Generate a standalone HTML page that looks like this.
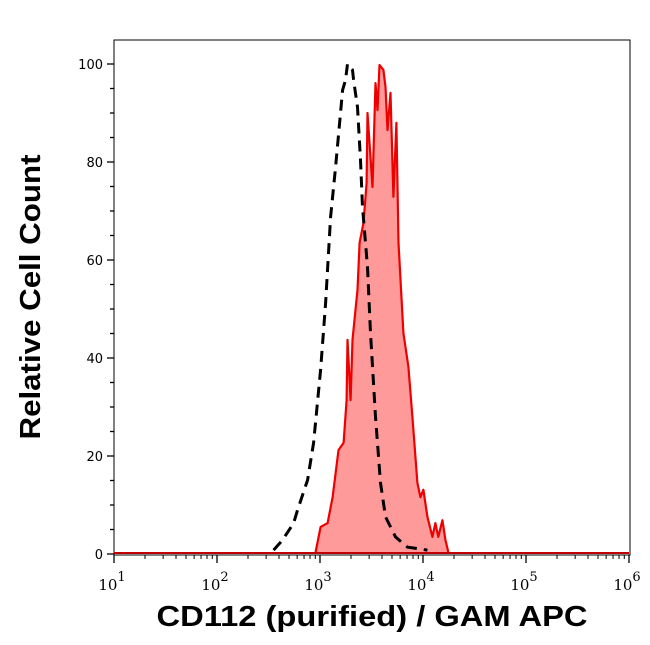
<!DOCTYPE html>
<html><head><meta charset="utf-8"><style>
body{margin:0;background:#fff;}
svg{display:block;}
</style></head><body>
<svg width="650" height="645" viewBox="0 0 650 645" xmlns="http://www.w3.org/2000/svg">
<g id="axes"></g>
<g id="marks"></g>
<text transform="translate(40,297) rotate(-90)" text-anchor="middle" font-family="Liberation Sans, sans-serif" font-weight="bold" font-size="29" textLength="285" lengthAdjust="spacingAndGlyphs">Relative Cell Count</text>
<text x="372" y="626" text-anchor="middle" font-family="Liberation Sans, sans-serif" font-weight="bold" font-size="29" textLength="431" lengthAdjust="spacingAndGlyphs">CD112 (purified) / GAM APC</text>
</svg>
<script>
const yTicks = [0, 20, 40, 60, 80, 100];
const xDecades = [1, 2, 3, 4, 5, 6];
const redLog = [2.957,3.006,3.074,3.122,3.180,3.229,3.258,3.267,3.297,3.316,3.364,3.384,3.422,3.452,3.461,3.510,3.539,3.558,3.578,3.616,3.636,3.655,3.684,3.713,3.742,3.762,3.810,3.858,3.897,3.946,3.975,4.004,4.043,4.091,4.120,4.149,4.188,4.217,4.246];
const redCount = [0.4,5.5,6.3,11.6,21.2,22.7,31.4,43.7,31.4,43.7,53.9,63.5,67.6,75.7,90.0,74.9,96.1,90.6,99.8,98.8,95.3,86.5,94.1,72.9,88.0,63.5,45.1,38.2,28.0,14.5,11.6,13.1,7.6,3.5,6.3,3.5,6.9,2.9,0.4];
const ctrlLog = [2.550,2.638,2.744,2.783,2.880,2.938,3.006,3.054,3.103,3.151,3.219,3.248,3.267,3.316,3.326,3.364,3.393,3.413,3.461,3.490,3.539,3.587,3.636,3.733,3.849,4.043];
const ctrlCount = [0.8,2.9,6.3,9.0,15.1,22.7,37.6,51.2,68.8,79.0,94.7,96.7,100,98.8,96.7,91.2,80.4,70.8,58.6,45.1,28.0,14.5,7.6,3.5,1.4,0.8];

const NS = 'http://www.w3.org/2000/svg';
const L = 114, R = 630, T = 40, B = 555;
const y0 = 554, yPer = 4.9;
const x1 = 114, dec = 103;
function sx(lg){ return x1 + (lg - 1) * dec; }
function sy(v){ return y0 - v * yPer; }
function mk(tag, attrs, parent){
  const e = document.createElementNS(NS, tag);
  for (const k in attrs) e.setAttribute(k, attrs[k]);
  parent.appendChild(e); return e;
}
const axes = document.getElementById('axes');
const marks = document.getElementById('marks');

const frame = mk('rect', {x:L, y:T, width:R-L, height:B-T, fill:'none', stroke:'#000', 'stroke-width':1}, axes);



for (let v = 0; v <= 100; v += 5) {
  const major = v % 20 === 0;
  const t = mk('line', {x1: major ? L-7 : L-4, x2: L, y1: sy(v), y2: sy(v), stroke:'#000', 'stroke-width':1.3}, axes);
  
  
}
yTicks.forEach(v => {
  const t = mk('text', {x: 103, y: sy(v) + 5, 'text-anchor':'end', 'font-family':'DejaVu Sans, sans-serif', 'font-size':13}, axes);
  t.textContent = String(v);
  
  
});
xDecades.forEach((d, i) => {
  const mt = mk('line', {x1: sx(d), x2: sx(d), y1: B, y2: B+8, stroke:'#000', 'stroke-width':1.3}, axes);
  
  
  if (i < xDecades.length - 1) {
    for (let m = 2; m <= 9; m++) {
      const x = sx(d + Math.log10(m));
      const t = mk('line', {x1: x, x2: x, y1: B, y2: B+4, stroke:'#000', 'stroke-width':1}, axes);
      
      
    }
  }
  const lab = mk('text', {x: sx(d) - 2, y: 590, 'text-anchor':'middle', 'font-family':'DejaVu Serif, serif', 'font-size':15}, axes);
  
  
  const base = document.createElementNS(NS, 'tspan'); base.textContent = '10'; lab.appendChild(base);
  const sup = document.createElementNS(NS, 'tspan'); sup.setAttribute('dy', -9); sup.setAttribute('font-size', 13); sup.textContent = String(d); lab.appendChild(sup);
});

let pts = redLog.map((l, i) => sx(l).toFixed(1) + ',' + sy(redCount[i]).toFixed(1));
const fill = mk('path', {d: 'M' + sx(redLog[0]) + ',' + sy(0) + ' L' + pts.join(' L') + ' L' + sx(redLog[redLog.length-1]) + ',' + sy(0) + 'Z', fill:'#ff9a9a', stroke:'none'}, marks);


const base = mk('line', {x1: sx(1), x2: sx(6), y1: sy(0.2), y2: sy(0.2), stroke:'#c00000', 'stroke-width':2}, marks);


const red = mk('polyline', {points: pts.join(' '), fill:'none', stroke:'#ee0000', 'stroke-width':2.2, 'stroke-linejoin':'round'}, marks);


const cpts = ctrlLog.map((l, i) => sx(l).toFixed(1) + ',' + sy(ctrlCount[i]).toFixed(1));
const ctrl = mk('polyline', {points: cpts.join(' '), fill:'none', stroke:'#000', 'stroke-width':3, 'stroke-dasharray':'11,7'}, marks);


</script>
</body></html>
